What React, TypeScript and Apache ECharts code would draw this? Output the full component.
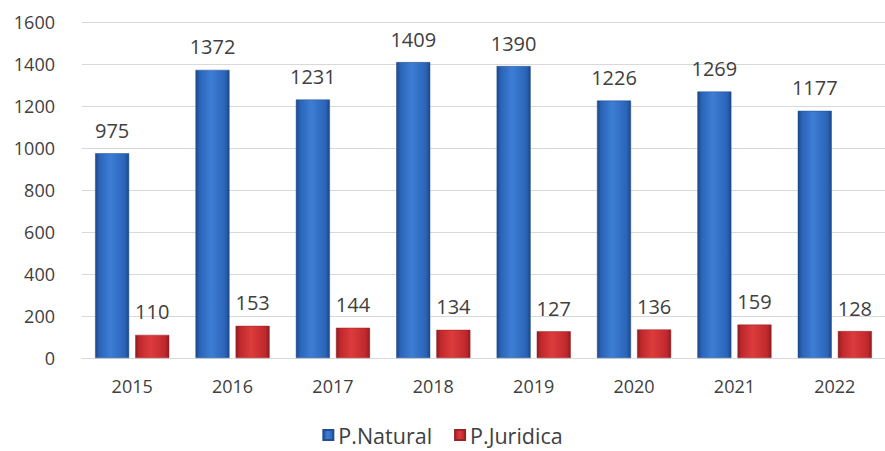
import React, { useEffect, useRef } from "react";
import * as echarts from "echarts";

const years = ["2015", "2016", "2017", "2018", "2019", "2020", "2021", "2022"];
const natural = [975, 1372, 1231, 1409, 1390, 1226, 1269, 1177];
const juridica = [110, 153, 144, 134, 127, 136, 159, 128];
const yTicks = { min: 0, max: 1600, interval: 200 };

const FONT = "'Open Sans', sans-serif";
const TXT = "#404040";

function hGrad(edge: string, mid: string, light: string) {
  return new echarts.graphic.LinearGradient(0, 0, 1, 0, [
    { offset: 0, color: edge },
    { offset: 0.12, color: mid },
    { offset: 0.45, color: light },
    { offset: 0.88, color: mid },
    { offset: 1, color: edge },
  ]);
}

export default function App() {
  const ref = useRef<HTMLDivElement>(null);
  useEffect(() => {
    if (!ref.current) return;
    const chart = echarts.init(ref.current, null, { renderer: "svg" });
    chart.setOption({
      animation: false,
      backgroundColor: "#ffffff",
      textStyle: { fontFamily: FONT },
      grid: { left: 82, right: -13, top: 22, bottom: 93, containLabel: false },
      legend: {
        bottom: 0,
        left: "center",
        itemWidth: 10,
        itemHeight: 10,
        itemGap: 22,
        icon: "rect",
        textStyle: { fontSize: 21.5, color: TXT, fontFamily: FONT },
        data: ["P.Natural", "P.Juridica"],
      },
      xAxis: {
        type: "category",
        data: years,
        axisLine: { show: true, lineStyle: { color: "#d9d9d9", width: 1 } },
        axisTick: { show: false },
        axisLabel: { fontSize: 18, color: TXT, margin: 19, fontFamily: FONT },
      },
      yAxis: {
        type: "value",
        min: yTicks.min,
        max: yTicks.max,
        interval: yTicks.interval,
        axisLine: { show: false },
        axisTick: { show: false },
        axisLabel: {
          fontSize: 18,
          color: TXT,
          margin: 27,
          fontFamily: FONT,
          formatter: (v: number) => String(v),
        },
        splitLine: { lineStyle: { color: "#d9d9d9", width: 1 } },
      },
      series: [
        {
          name: "P.Natural",
          type: "bar",
          data: natural,
          barWidth: 34,
          barGap: "18%",
          itemStyle: {
            color: hGrad("#1c4788", "#2a64b8", "#3d7ed4"),
            borderColor: "#234d8f",
            borderWidth: 0.5,
          },
          label: {
            show: true,
            position: "top",
            distance: 13,
            fontSize: 20,
            color: TXT,
            fontFamily: FONT,
          },
        },
        {
          name: "P.Juridica",
          type: "bar",
          data: juridica,
          barWidth: 34,
          itemStyle: {
            color: hGrad("#8f1c1f", "#c0282d", "#dc3c3c"),
            borderColor: "#9a2326",
            borderWidth: 0.5,
          },
          label: {
            show: true,
            position: "top",
            distance: 13,
            fontSize: 20,
            color: TXT,
            fontFamily: FONT,
          },
        },
      ],
    });
    return () => chart.dispose();
  }, []);
  return <div ref={ref} style={{ width: 885, height: 451, position: "absolute", left: 0, top: 0 }} />;
}
